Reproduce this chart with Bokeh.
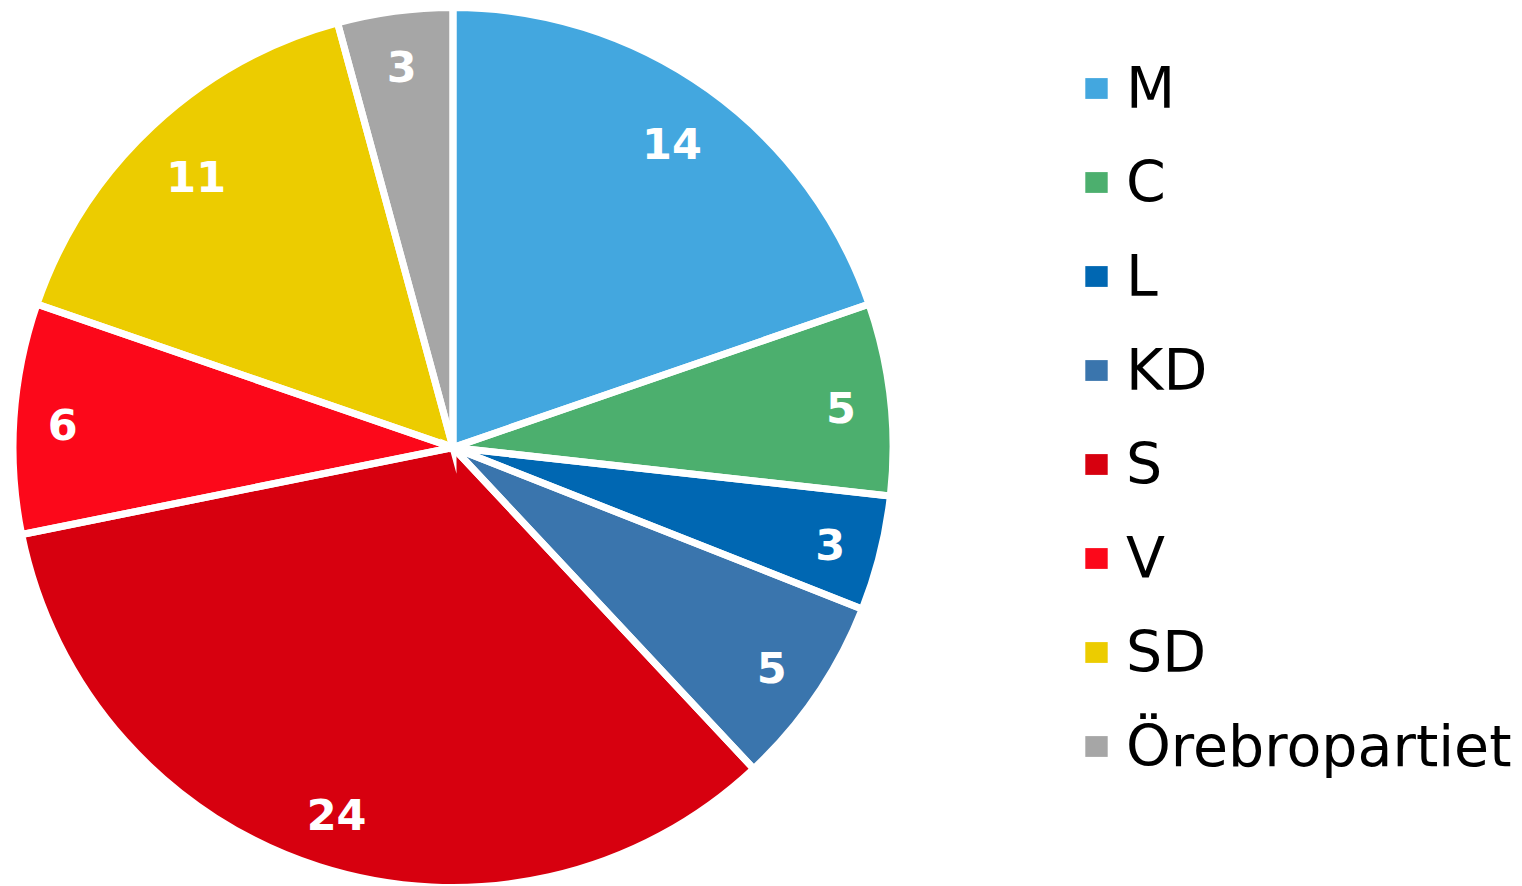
import math
from bokeh.plotting import figure
from bokeh.models import ColumnDataSource, Range1d, Legend, LegendItem
from bokeh.core.properties import value
from bokeh.embed import file_html
from bokeh.resources import INLINE

parties = ["M", "C", "L", "KD", "S", "V", "SD", "Örebropartiet"]
seats = [14, 5, 3, 5, 24, 6, 11, 3]
colors = ["#43A7DF", "#4CAF6E", "#0067B2", "#3A75AD", "#D7000F", "#FC081A", "#ECCC00", "#A6A6A6"]

W, H = 1522, 886
CX, CY, R = 452.5, H - 447, 440
SEP = 7
FS = 43
R_IN = 405  # inner edge limit for "inside end" labels

total = sum(seats)
starts, ends, lx, ly = [], [], [], []
cum = 0
for v in seats:
    a0 = math.pi / 2 - 2 * math.pi * cum / total
    cum += v
    a1 = math.pi / 2 - 2 * math.pi * cum / total
    starts.append(a1)
    ends.append(a0)
    mid = (a0 + a1) / 2
    hw = 0.3 * FS * len(str(v))
    hh = 0.37 * FS
    r = R_IN - (hw * abs(math.cos(mid)) + hh * abs(math.sin(mid)))
    lx.append(CX + r * math.cos(mid))
    ly.append(CY + r * math.sin(mid) - 3)

src = ColumnDataSource(dict(party=parties, seats=seats, color=colors,
                            start=starts, end=ends, lx=lx, ly=ly,
                            txt=[str(v) for v in seats],
                            cx=[CX] * len(seats), cy=[CY] * len(seats)))

p = figure(width=W, height=H, output_backend="svg", toolbar_location=None,
           x_range=Range1d(0, W), y_range=Range1d(0, H), min_border=0,
           outline_line_color=None, background_fill_color="white")
p.axis.visible = False
p.grid.visible = False

fill_r = p.wedge(x="cx", y="cy", radius=R, start_angle="start", end_angle="end",
                 direction="anticlock", fill_color="color", line_color=None, source=src)
p.wedge(x="cx", y="cy", radius=R, start_angle="start", end_angle="end",
        direction="anticlock", fill_alpha=0, line_color="white", line_width=SEP,
        line_join="miter", source=src)

p.text(x="lx", y="ly", text="txt", source=src, text_color="white",
       text_font=value("DejaVu Sans"), text_font_style="bold", text_font_size=f"{FS}px",
       text_align="center", text_baseline="middle")

items = [LegendItem(label=parties[i], renderers=[fill_r], index=i) for i in range(len(parties))]
legend = Legend(items=items, location=(1082, 93), orientation="vertical",
                glyph_width=28, glyph_height=26, label_height=94, spacing=0,
                label_standoff=16, padding=0, margin=0,
                label_text_font="DejaVu Sans", label_text_font_size="57px",
                label_text_color="black", border_line_color=None,
                background_fill_alpha=0)
p.add_layout(legend)

open("out.html", "w").write(file_html(p, INLINE))
